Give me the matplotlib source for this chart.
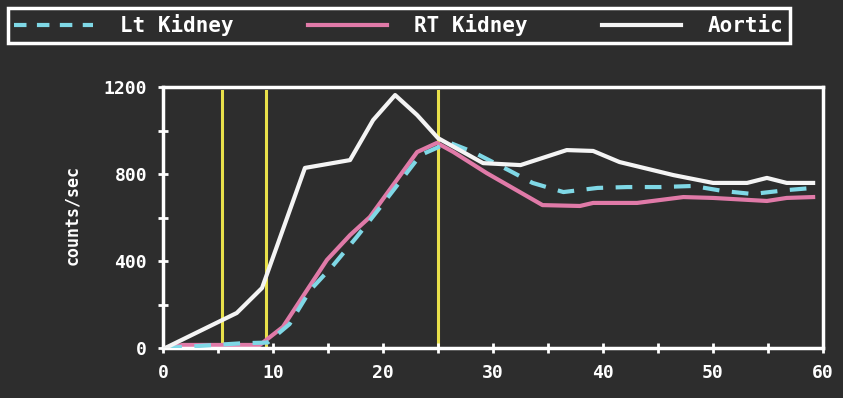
import matplotlib
matplotlib.use("Agg")
import matplotlib.pyplot as plt
from matplotlib.lines import Line2D

# time (sec) / counts per second
aortic_t = [0.2, 5.4, 6.7, 9.0, 12.9, 17.0, 19.1, 21.1, 23.1, 25.0, 29.1, 32.5,
            36.7, 39.1, 41.5, 46.4, 50.0, 53.1, 54.9, 56.7, 59.1]
aortic_c = [0, 129, 161, 276, 828, 864, 1048, 1163, 1071, 965, 850, 841,
            910, 906, 855, 795, 759, 759, 782, 759, 759]

rt_t = [0.2, 1.8, 8.8, 10.9, 13.1, 14.9, 17.0, 18.8, 23.1, 24.9, 26.4, 29.4,
        34.5, 37.9, 39.1, 43.1, 47.3, 50.0, 54.9, 56.7, 59.1]
rt_c = [0, 14, 14, 97, 267, 405, 519, 602, 901, 943, 901, 805,
        657, 653, 667, 667, 694, 690, 676, 690, 694]

lt_t = [0.2, 7.2, 9.5, 11.5, 13.4, 15.5, 17.6, 19.7, 23.4, 26.0, 28.2, 31.4,
        33.6, 36.4, 39.5, 42.2, 45.2, 48.2, 50.9, 53.6, 56.7, 59.1]
lt_c = [0, 22, 25, 110, 267, 382, 510, 644, 887, 945, 901, 818,
        759, 717, 736, 740, 740, 745, 722, 708, 726, 736]

markers = [5.4, 9.4, 25.0]

xticks = [0, 10, 20, 30, 40, 50, 60]
yticks = [0, 400, 800, 1200]

bg = "#2d2d2d"
fnt = "DejaVu Sans Mono"

fig = plt.figure(figsize=(8.43, 3.98), dpi=100, facecolor=bg)
ax = fig.add_axes([0.1934, 0.1256, 0.7829, 0.6558], facecolor=bg)

for m in markers:
    ax.axvline(m, color="#e8e04a", lw=2.2, ymin=0, ymax=0.985, zorder=1)

ax.plot(lt_t, lt_c, color="#7fd8e6", lw=3, dashes=(4, 3), zorder=3)
ax.plot(rt_t, rt_c, color="#e07aa8", lw=3, zorder=2)
ax.plot(aortic_t, aortic_c, color="#f4f4f4", lw=3, zorder=4)

ax.set_xlim(0, 60)
ax.set_ylim(0, 1200)
ax.set_xticks(xticks)
ax.set_xticks(range(0, 61, 5), minor=True)
ax.set_yticks(yticks)
ax.set_yticks(range(0, 1201, 200), minor=True)
for s in ax.spines.values():
    s.set_color("white")
    s.set_linewidth(2.5)
ax.tick_params(which="both", direction="inout", length=7, width=2, colors="white")
ax.tick_params(axis="both", labelsize=13, pad=8)
for lab in ax.get_xticklabels() + ax.get_yticklabels():
    lab.set_fontfamily(fnt)
    lab.set_fontweight("bold")
    lab.set_color("white")

fig.text(0.085, 0.46, "counts/sec", rotation=90, color="white", fontsize=12,
         fontweight="bold", fontfamily=fnt, ha="center", va="center")

handles = [
    Line2D([], [], color="#7fd8e6", lw=3, dashes=(3, 2.5)),
    Line2D([], [], color="#e07aa8", lw=3),
    Line2D([], [], color="#f4f4f4", lw=3),
]
leg = fig.legend(handles, ["Lt Kidney", "RT Kidney", "Aortic"], ncol=3,
                 loc="upper left", mode="expand",
                 bbox_to_anchor=(8 / 843, 1 - 8 / 398, 782 / 843, 0.0),
                 facecolor=bg, edgecolor="white", framealpha=1, fancybox=False,
                 handlelength=3.8, handletextpad=1.3, borderpad=0.3,
                 borderaxespad=0,
                 prop={"family": fnt, "weight": "bold", "size": 15})
leg.get_frame().set_linewidth(2.5)
for t in leg.get_texts():
    t.set_color("white")

fig.savefig("out.png", dpi=100, facecolor=bg)
